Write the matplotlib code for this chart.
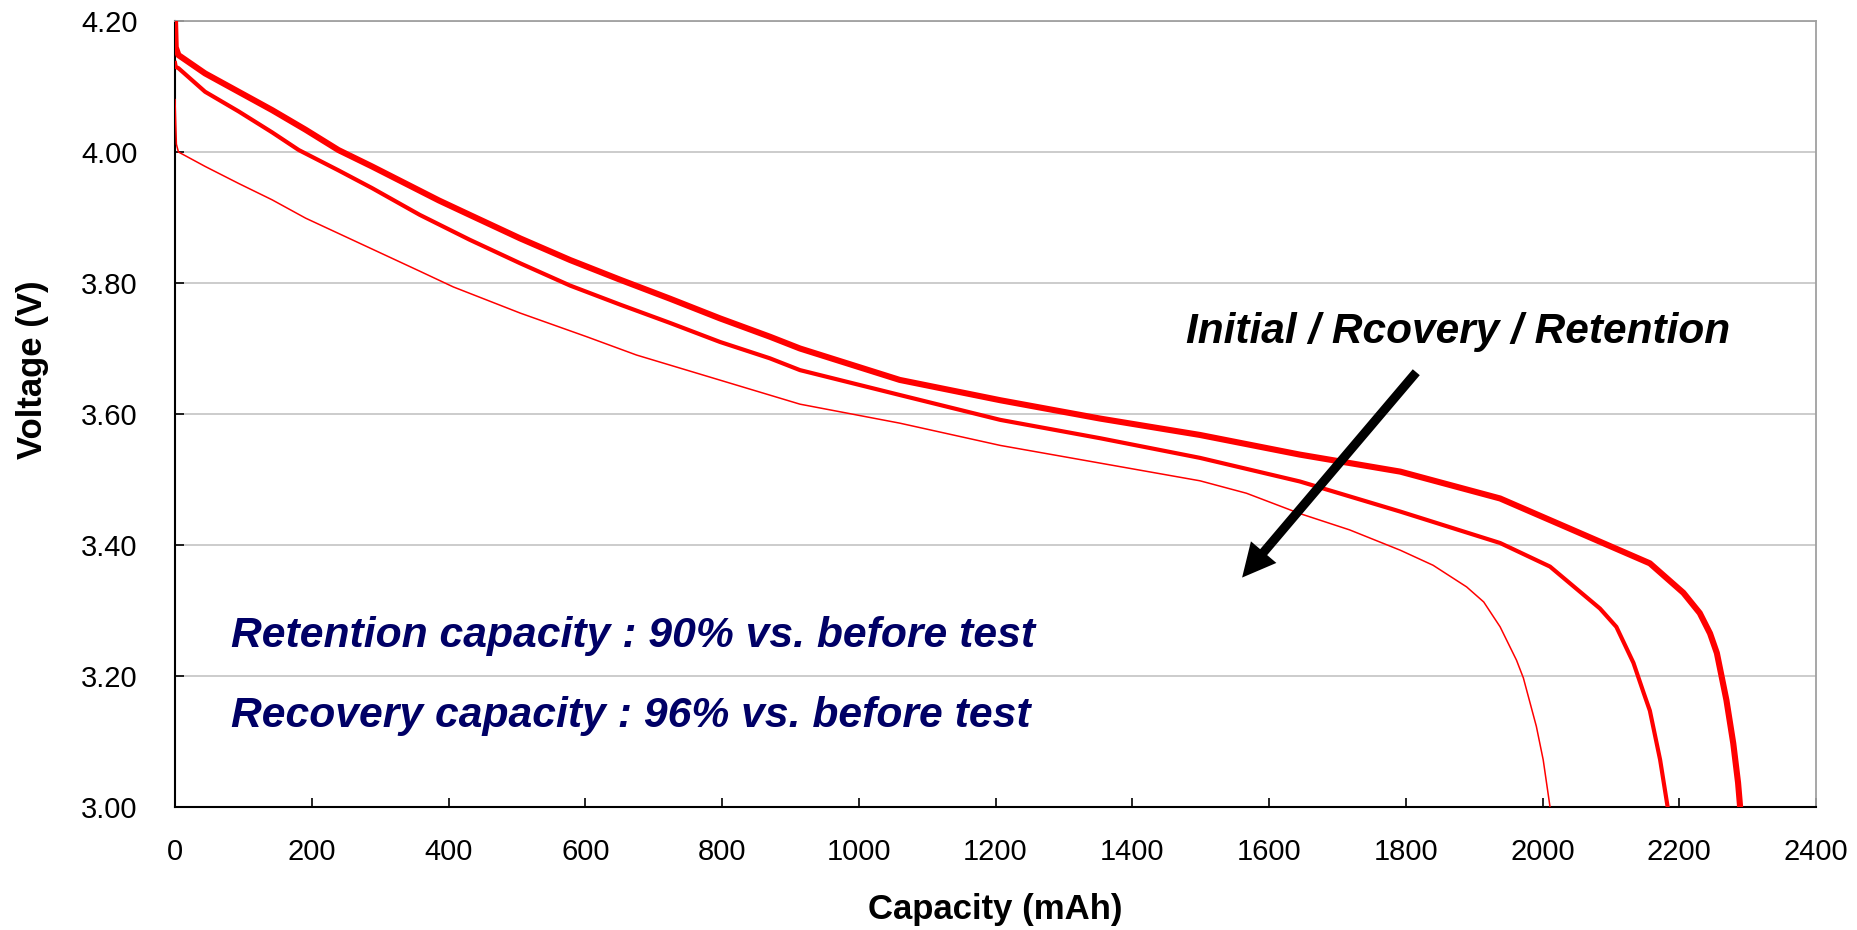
import matplotlib
matplotlib.use('Agg')
import matplotlib.pyplot as plt
import numpy as np

plt.rcParams['font.family'] = ['Liberation Sans', 'DejaVu Sans']

# Discharge curves (capacity in mAh, voltage in V)
initial_cap = [0, 1, 5, 44, 93, 142, 191, 239, 288, 337, 386, 431, 505, 578, 651, 724, 797,
               870, 914, 1060, 1207, 1353, 1499, 1645, 1792, 1938, 2011, 2084, 2157, 2206,
               2230, 2245, 2255, 2269, 2279, 2286, 2289]
initial_v = [4.20, 4.16, 4.148, 4.120, 4.092, 4.064, 4.034, 4.003, 3.978, 3.952, 3.926, 3.904,
             3.868, 3.835, 3.805, 3.776, 3.746, 3.718, 3.700, 3.652, 3.621, 3.593, 3.568,
             3.538, 3.512, 3.471, 3.438, 3.405, 3.372, 3.327, 3.296, 3.265, 3.235, 3.163,
             3.097, 3.037, 3.00]

recovery_cap = [0, 1, 5, 44, 93, 142, 181, 239, 288, 358, 431, 505, 578, 651, 724, 797, 870,
                914, 1060, 1207, 1353, 1499, 1645, 1792, 1938, 2011, 2084, 2108, 2133, 2148,
                2157, 2172, 2183]
recovery_v = [4.136, 4.13, 4.128, 4.092, 4.062, 4.030, 4.003, 3.972, 3.945, 3.904, 3.866,
              3.830, 3.796, 3.767, 3.739, 3.710, 3.685, 3.667, 3.629, 3.591, 3.563, 3.533,
              3.497, 3.451, 3.403, 3.367, 3.303, 3.275, 3.220, 3.174, 3.147, 3.072, 3.00]

retention_cap = [0, 2, 5, 44, 93, 142, 191, 358, 407, 505, 602, 675, 914, 1060, 1207, 1353,
                 1499, 1567, 1645, 1718, 1792, 1840, 1889, 1914, 1938, 1962, 1972, 1991, 2001,
                 2011]
retention_v = [4.08, 4.012, 4.00, 3.978, 3.952, 3.927, 3.899, 3.818, 3.794, 3.754, 3.718,
               3.690, 3.615, 3.586, 3.552, 3.525, 3.498, 3.479, 3.448, 3.423, 3.392, 3.369,
               3.336, 3.313, 3.275, 3.224, 3.197, 3.123, 3.072, 3.00]

x_ticks = np.arange(0, 2401, 200)
y_ticks = [3.00, 3.20, 3.40, 3.60, 3.80, 4.00, 4.20]

fig = plt.figure(figsize=(18.58, 9.30), dpi=100)
ax = fig.add_axes([0.0942, 0.1323, 0.8832, 0.8451])

ax.plot(retention_cap, retention_v, color='#ff0000', lw=1.1, zorder=3)
ax.plot(recovery_cap, recovery_v, color='#ff0000', lw=3.0, zorder=3)
ax.plot(initial_cap, initial_v, color='#ff0000', lw=4.4, zorder=3)

ax.set_xlim(0, 2400)
ax.set_ylim(3.0, 4.2)
ax.set_xticks(x_ticks)
ax.set_yticks(y_ticks)
ax.set_yticklabels([f'{v:.2f}' for v in y_ticks])
ax.grid(axis='y', color='#c8c8c8', lw=1.3)
ax.set_axisbelow(True)

ax.tick_params(axis='both', direction='in', length=6.5, width=1.2, labelsize=21, colors='black')
ax.tick_params(axis='y', pad=27)
ax.tick_params(axis='x', pad=22)

for side in ['left', 'bottom']:
    ax.spines[side].set_color('black')
    ax.spines[side].set_linewidth(1.5)
for side in ['top', 'right']:
    ax.spines[side].set_color('#a0a0a0')
    ax.spines[side].set_linewidth(1.3)

ax.set_xlabel('Capacity (mAh)', fontsize=25, fontweight='bold', va='center')
ax.xaxis.set_label_coords(0.5, -0.13)
ax.set_ylabel('Voltage (V)', fontsize=25, fontweight='bold', va='center')
ax.yaxis.set_label_coords(-0.087, 0.556)

ax.text(1876, 3.725, 'Initial / Rcovery / Retention', fontsize=30.5, fontweight='bold',
        style='italic', ha='center', va='center', color='black')
ax.annotate('', xy=(1558, 3.347), xytext=(1818, 3.667),
            arrowprops=dict(arrowstyle='simple,head_length=0.8,head_width=0.8,tail_width=0.22',
                            mutation_scale=30, fc='black', ec='black', lw=0))

ax.text(82, 3.261, 'Retention capacity : 90% vs. before test', fontsize=30.7, fontweight='bold',
        style='italic', ha='left', va='center', color='#000066')
ax.text(82, 3.139, 'Recovery capacity : 96% vs. before test', fontsize=30.7, fontweight='bold',
        style='italic', ha='left', va='center', color='#000066')

fig.savefig('out.png', dpi=100)
